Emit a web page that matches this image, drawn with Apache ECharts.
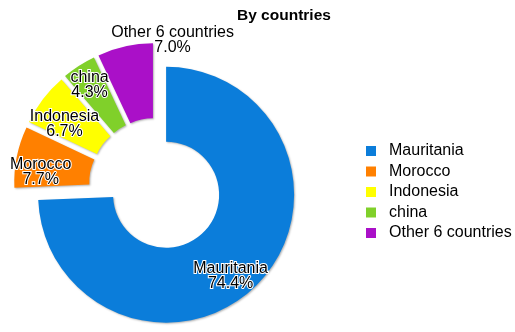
<!DOCTYPE html>
<html>
<head>
<meta charset="utf-8">
<script src="https://cdn.jsdelivr.net/npm/echarts@6/dist/echarts.min.js"></script>
<style>html,body{margin:0;padding:0;background:#fff}#c{width:515px;height:332px}</style>
</head>
<body>
<div id="c"></div>
<script>
var categories = ['Mauritania', 'Morocco', 'Indonesia', 'china', 'Other 6 countries'];
var shares = [74.4, 7.7, 6.7, 4.3, 7.0];
var titleText = 'By countries';

var colors = ['#0b7dda', '#ff8000', '#ffff00', '#80d02a', '#aa10c8'];
var labelShift = [[-3, 17], [-10, 8], [-6, 4], [-8, -10], [40, -40]];

var chart = echarts.init(document.getElementById('c'), null, {renderer: 'canvas'});
var font = '"Liberation Sans", Arial, sans-serif';
chart.setOption({
  animation: false,
  color: colors,
  title: {
    text: titleText, left: 232, top: 3,
    textStyle: {fontFamily: font, fontSize: 15.5, fontWeight: 'bold', color: '#000'}
  },
  legend: {
    orient: 'vertical', left: 366, top: 143, padding: 0,
    itemWidth: 10, itemHeight: 10, itemGap: 4.5,
    icon: 'rect',
    selectedMode: false,
    data: categories,
    textStyle: {fontFamily: font, fontSize: 16, color: '#000', lineHeight: 15, padding: [0, 0, 0, 8]}
  },
  series: [{
    type: 'pie',
    center: [156, 185],
    radius: [53, 128],
    startAngle: 90,
    clockwise: true,
    selectedMode: 'multiple',
    selectedOffset: 14,
    avoidLabelOverlap: false,
    emphasis: {disabled: true},
    itemStyle: {shadowColor: 'rgba(0,0,0,0.3)', shadowBlur: 2, shadowOffsetX: 1, shadowOffsetY: 1},
    label: {
      show: true, position: 'inside',
      formatter: function (p) { return p.name + '\n' + p.value.toFixed(1) + '%'; },
      fontFamily: font, fontSize: 16, lineHeight: 15, color: '#000',
      textBorderColor: '#fff', textBorderWidth: 2
    },
    labelLine: {show: false},
    labelLayout: function (p) {
      var s = labelShift[p.dataIndex];
      return {dx: s[0], dy: s[1]};
    },
    data: categories.map(function (c, i) {
      return {name: c, value: shares[i], selected: true};
    })
  }]
});
</script>
</body>
</html>
